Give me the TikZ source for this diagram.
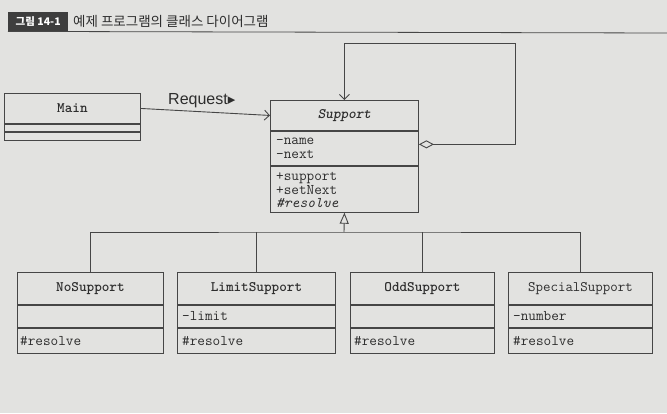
\documentclass[tikz,border=0pt]{standalone}
\usepackage{fontspec}
\newfontfamily\kr{Noto Sans CJK KR}
\newfontfamily\arial{Liberation Sans}
\newfontfamily\dejavu{DejaVu Sans}
\usetikzlibrary{arrows.meta,shapes.geometric}
\definecolor{bgc}{RGB}{226,226,224}
\definecolor{linec}{RGB}{70,70,70}
\definecolor{txtc}{RGB}{45,45,45}
\definecolor{labc}{RGB}{62,62,62}
\tikzset{
  cls/.style={draw=linec, line width=0.9pt, inner sep=0pt, anchor=north west, text=txtc},
  hdr/.style={font=\ttfamily\bfseries\fontsize{14.5}{16}\selectfont},
  mem/.style={font=\ttfamily\fontsize{14.8}{13.5}\selectfont, text=txtc, anchor=west, inner sep=0pt, align=left},
  conn/.style={draw=linec, line width=0.9pt},
  openv/.style={-{Straight Barb[length=5pt,width=10pt,line width=0.9pt]}},
}
\begin{document}
\begin{tikzpicture}[x=1pt,y=-1pt]
\fill[bgc] (0,0) rectangle (667,413);
\useasboundingbox (0,0) rectangle (667,413);

% title
\node[fill=labc, text=white, font=\kr\bfseries\fontsize{10.5}{12}\selectfont, minimum width=60pt, minimum height=19pt, anchor=north west, inner sep=0pt] (lab) at (8,12) {그림 14-1};
\node[font=\kr\fontsize{13.5}{15}\selectfont, anchor=west, text=txtc, inner sep=0pt] (ttl) at (73,21) {예제 프로그램의 클래스 다이어그램};
\coordinate (lineEnd) at (667,33);
\draw[draw=linec, line width=0.8pt] (lab.south west) -- (lineEnd);

% Main
\node[cls, hdr, minimum width=136pt, minimum height=30pt] (mainH) at (4,93) {Main};
\node[cls, minimum width=136pt, minimum height=7pt] (mainA) at (mainH.south west) {};
\node[cls, minimum width=136pt, minimum height=8pt] (mainM) at (mainA.south west) {};

% Support
\node[cls, font=\ttfamily\bfseries\itshape\fontsize{14.5}{16}\selectfont, minimum width=148pt, minimum height=30pt] (supH) at (270,100) {Support};
\node[cls, minimum width=148pt, minimum height=34pt] (supA) at (supH.south west) {};
\node[cls, minimum width=148pt, minimum height=46pt] (supM) at (supA.south west) {};
\node[mem] (supAt) at ([xshift=6pt]supA.west) {-name\\-next};
\node[mem] (supMt) at ([xshift=6pt,yshift=-1pt]supM.west) {+support\\+setNext\\\textit{\#resolve}};

% Request association
\draw[conn, openv] (mainH.east) -- (supH.west);
\node[font=\arial\fontsize{16}{18}\selectfont, anchor=base west, text=txtc, inner sep=0pt] (req) at (168,104) {Request{\dejavu\fontsize{15}{16}\selectfont ▸}};

% self aggregation loop
\coordinate (loopR) at (515,43);
\draw[conn, {Diamond[open,length=15pt,width=8pt,line width=0.9pt]}-{Straight Barb[length=5pt,width=10pt,line width=0.9pt]}]
  ([yshift=4pt]supA.east) -| (loopR) -| (supH.north);

% subclasses
\node[cls, hdr, minimum width=146pt, minimum height=32pt] (noH) at (17,272) {NoSupport};
\node[cls, minimum width=146pt, minimum height=22pt] (noA) at (noH.south west) {};
\node[cls, minimum width=146pt, minimum height=25pt] (noM) at (noA.south west) {};
\node[mem] (no1) at ([xshift=3pt]noM.west) {\#resolve};

\node[cls, hdr, minimum width=158pt, minimum height=32pt] (limH) at (177,272) {LimitSupport};
\node[cls, minimum width=158pt, minimum height=22pt] (limA) at (limH.south west) {};
\node[cls, minimum width=158pt, minimum height=25pt] (limM) at (limA.south west) {};
\node[mem] (lim1) at ([xshift=5pt]limA.west) {-limit};
\node[mem] (lim2) at ([xshift=5pt]limM.west) {\#resolve};

\node[cls, hdr, minimum width=144pt, minimum height=32pt] (oddH) at (350,272) {OddSupport};
\node[cls, minimum width=144pt, minimum height=22pt] (oddA) at (oddH.south west) {};
\node[cls, minimum width=144pt, minimum height=25pt] (oddM) at (oddA.south west) {};
\node[mem] (odd1) at ([xshift=4pt]oddM.west) {\#resolve};

\node[cls, font=\ttfamily\fontsize{14.5}{16}\selectfont, minimum width=144pt, minimum height=32pt] (spH) at (508,272) {SpecialSupport};
\node[cls, minimum width=144pt, minimum height=22pt] (spA) at (spH.south west) {};
\node[cls, minimum width=144pt, minimum height=25pt] (spM) at (spA.south west) {};
\node[mem] (sp1) at ([xshift=5pt]spA.west) {-number};
\node[mem] (sp2) at ([xshift=5pt]spM.west) {\#resolve};

% generalization
\coordinate (bus) at (344,232);
\draw[conn, {Triangle[open,length=11pt,width=9pt,line width=0.9pt]}-] (supM.south) -- (bus);
\draw[conn] (noH.north) |- (bus) -| (spH.north);
\draw[conn] (limH.north) -- (limH.north |- bus);
\draw[conn] (oddH.north) -- (oddH.north |- bus);
\end{tikzpicture}
\end{document}
